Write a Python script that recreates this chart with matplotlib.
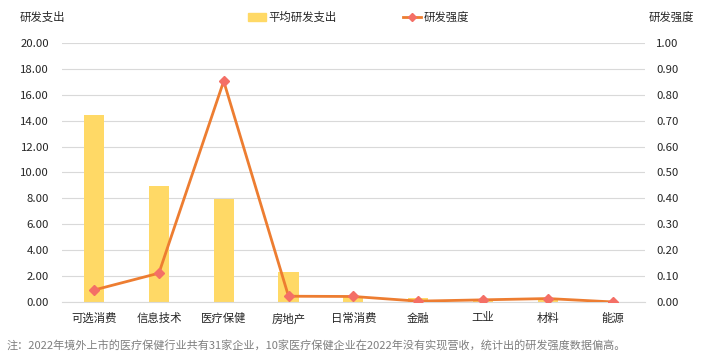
import matplotlib
matplotlib.use('Agg')
import matplotlib.pyplot as plt
from matplotlib.lines import Line2D
from matplotlib.patches import Patch

plt.rcParams['font.family'] = ['Noto Sans CJK SC', 'DejaVu Sans']

# 数据
categories = ['可选消费', '信息技术', '医疗保健', '房地产', '日常消费', '金融', '工业', '材料', '能源']
rd_spend = [14.45, 8.95, 7.95, 2.30, 0.45, 0.30, 0.05, 0.15, 0.0]
rd_intensity = [0.046, 0.111, 0.853, 0.022, 0.021, 0.003, 0.008, 0.013, 0.0]
left_ticks = [0, 2, 4, 6, 8, 10, 12, 14, 16, 18, 20]
right_ticks = [0, 0.1, 0.2, 0.3, 0.4, 0.5, 0.6, 0.7, 0.8, 0.9, 1.0]
note = '注：2022年境外上市的医疗保健行业共有31家企业，10家医疗保健企业在2022年没有实现营收，统计出的研发强度数据偏高。'

bar_color = '#FFD966'
line_color = '#ED7D31'
marker_color = '#F46F66'
grid_color = '#D9D9D9'
text_color = '#262626'
fs = 8.2

fig = plt.figure(figsize=(7.01, 3.59), dpi=100)
ax = fig.add_axes([0.088, 0.159, 0.832, 0.721])
ax2 = ax.twinx()

x = list(range(len(categories)))
ax.bar(x, rd_spend, width=0.31, color=bar_color, zorder=2)
ax2.plot(x, rd_intensity, color=line_color, lw=2, marker='D', markersize=5.5,
         markerfacecolor=marker_color, markeredgecolor=marker_color, zorder=3)

ax.set_xlim(-0.5, len(categories) - 0.5)
ax.set_ylim(0, 20)
ax2.set_ylim(0, 1.0)
ax.set_yticks(left_ticks)
ax.set_yticklabels(['%.2f' % v for v in left_ticks])
ax2.set_yticks(right_ticks)
ax2.set_yticklabels(['%.2f' % v for v in right_ticks])
ax.set_xticks(x)
ax.set_xticklabels(categories)

for a in (ax, ax2):
    for s in a.spines.values():
        s.set_visible(False)
    a.tick_params(length=0, labelsize=fs, colors=text_color)
ax.tick_params(axis='y', pad=9)
ax2.tick_params(axis='y', pad=8)
ax.tick_params(axis='x', pad=8)
ax.spines['bottom'].set_visible(True)
ax.spines['bottom'].set_color(grid_color)
ax.grid(axis='y', color=grid_color, lw=0.8, zorder=0)
ax.set_axisbelow(True)
ax2.set_zorder(ax.get_zorder() + 1)
ax2.patch.set_visible(False)

fig.text(0.028, 0.952, '研发支出', fontsize=fs, color=text_color, va='center')
fig.text(0.925, 0.952, '研发强度', fontsize=fs, color=text_color, va='center')

handles = [Patch(color=bar_color),
           Line2D([], [], color=line_color, lw=2, marker='D', markersize=4,
                  markerfacecolor=marker_color, markeredgecolor=marker_color)]
fig.legend(handles, ['平均研发支出', '研发强度'], loc='center', bbox_to_anchor=(0.511, 0.952),
           ncol=2, frameon=False, fontsize=fs, handlelength=1.6, handletextpad=0.2,
           columnspacing=5.8, labelcolor=text_color)

fig.text(0.01, 0.036, note, fontsize=8, color='#7F7F7F', va='center')

fig.savefig('out.png', dpi=100)
